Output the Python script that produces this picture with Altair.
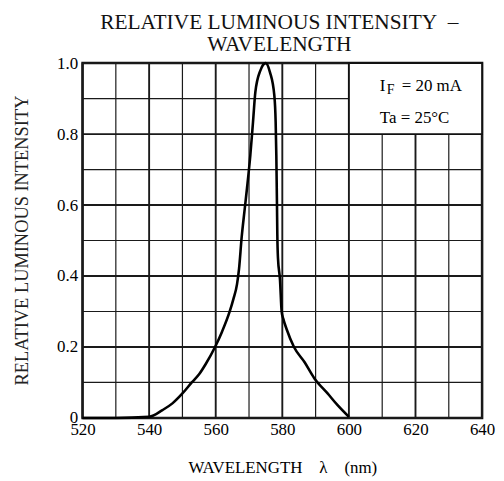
import altair as alt
import pandas as pd

# Curve
wavelength = [520, 530, 540, 544, 547, 550, 552.8, 555, 557, 559.8, 561.8, 564.2, 565.3, 566.4,
              567.0, 567.8, 568.6, 569.4, 570.4, 571.2, 571.9, 573.4, 575.0, 576.3, 577.6, 578.0,
              578.2, 578.4, 578.5, 578.7, 579.3, 579.8, 580.3, 581.3, 583.5, 586.7, 589.6,
              593.6, 596.6, 600]
intensity = [0, 0, 0.003, 0.022, 0.041, 0.069, 0.10, 0.123, 0.152, 0.20, 0.241, 0.30, 0.335, 0.377,
             0.42, 0.51, 0.58, 0.648, 0.741, 0.834, 0.918, 0.979, 1.0, 0.974, 0.909, 0.834,
             0.741, 0.60, 0.517, 0.45, 0.39, 0.30, 0.279, 0.25, 0.20, 0.157, 0.112,
             0.069, 0.036, 0.003]

grid_x = list(range(520, 641, 10))
grid_y = [round(i * 0.1, 1) for i in range(11)]
x_ticks = [520, 540, 560, 580, 600, 620, 640]
y_ticks = [0, 0.2, 0.4, 0.6, 0.8, 1.0]
box_x = [600, 640]
box_y = [0.8, 1.0]
note_x = 609.3
note_y = [0.92, 0.832]

SERIF = "Liberation Serif"

curve = pd.DataFrame({"wl": wavelength, "ri": intensity})
vgrid = pd.DataFrame({"wl": grid_x, "w": [1.9 if v % 20 == 0 else 1.2 for v in grid_x]})
hgrid = pd.DataFrame({"ri": grid_y, "w": [1.9 if round(v * 10) % 2 == 0 else 1.2 for v in grid_y]})
box = pd.DataFrame({"x1": [box_x[0]], "x2": [box_x[1]], "y1": [box_y[0]], "y2": [box_y[1]]})

xs = alt.Scale(domain=[520, 640], nice=False, zero=False)
ys = alt.Scale(domain=[0, 1], nice=False)

xaxis = alt.Axis(values=x_ticks, grid=False, ticks=False, domain=False, labelFlush=False,
                 labelFont=SERIF, labelFontSize=17, labelColor="black", labelPadding=4,
                 format="d",
                 title="WAVELENGTH\u2002\u2002λ\u2002\u2002(nm)", titleFont=SERIF, titleFontSize=17,
                 titleFontWeight="normal", titleColor="black", titleX=201, titleY=55,
                 titleBaseline="alphabetic", titleAlign="center")
yaxis = alt.Axis(values=y_ticks, grid=False, ticks=False, domain=False, labelFlush=False,
                 labelFont=SERIF, labelFontSize=17, labelColor="black", labelPadding=5,
                 labelExpr="datum.value == 0 ? '0' : format(datum.value, '.1f')",
                 title="RELATIVE LUMINOUS INTENSITY", titleFont=SERIF, titleFontSize=18.5,
                 titleFontWeight="normal", titleColor="#222", titleX=-61, titleY=178,
                 titleAngle=270, titleAlign="center", titleBaseline="middle")

X = lambda f: alt.X(f, scale=xs, axis=xaxis)
Y = lambda f: alt.Y(f, scale=ys, axis=yaxis)

vlines = alt.Chart(vgrid).mark_rule(color="#1a1a1a").encode(
    x=X("wl:Q"), strokeWidth=alt.StrokeWidth("w:Q", scale=None))
hlines = alt.Chart(hgrid).mark_rule(color="#1a1a1a").encode(
    y=Y("ri:Q"), strokeWidth=alt.StrokeWidth("w:Q", scale=None))
boxmark = alt.Chart(box).mark_rect(fill="white", stroke="#111", strokeWidth=1.9).encode(
    x=X("x1:Q"), x2="x2:Q", y=Y("y1:Q"), y2="y2:Q")
line = alt.Chart(curve).mark_line(color="black", strokeWidth=2.6, interpolate="monotone").encode(
    x=X("wl:Q"), y=Y("ri:Q"))

t1 = pd.DataFrame({"x": [note_x], "y": [note_y[0]]})
t2 = pd.DataFrame({"x": [note_x], "y": [note_y[1]]})
base_t = dict(font=SERIF, fontSize=17, color="black", align="left", baseline="alphabetic")
txt_I = alt.Chart(t1).mark_text(text="I", **base_t).encode(x=X("x:Q"), y=Y("y:Q"))
txt_F = alt.Chart(t1).mark_text(text="F", font=SERIF, fontSize=14, color="black", align="left",
                                baseline="alphabetic", dx=7, dy=3).encode(x=X("x:Q"), y=Y("y:Q"))
txt_eq = alt.Chart(t1).mark_text(text="= 20 mA", dx=22, **base_t).encode(x=X("x:Q"), y=Y("y:Q"))
txt_ta = alt.Chart(t2).mark_text(text="Ta = 25°C", **base_t).encode(x=X("x:Q"), y=Y("y:Q"))

chart = alt.layer(vlines, hlines, boxmark, line, txt_I, txt_F, txt_eq, txt_ta).properties(
    width=402, height=357,
    title=alt.Title(["RELATIVE LUMINOUS INTENSITY\u2002–", "WAVELENGTH"], font=SERIF, fontSize=21.5,
                    fontWeight="normal", color="#111", anchor="middle", lineHeight=22, offset=10,
                    dx=-3, dy=11),
    autosize=alt.AutoSizeParams(type="none"),
    padding={"left": 75, "top": 54, "right": 14, "bottom": 60},
).configure_view(stroke="#111", strokeWidth=2.5)

chart.save("out.html", embed_options={"renderer": "svg", "actions": False})
